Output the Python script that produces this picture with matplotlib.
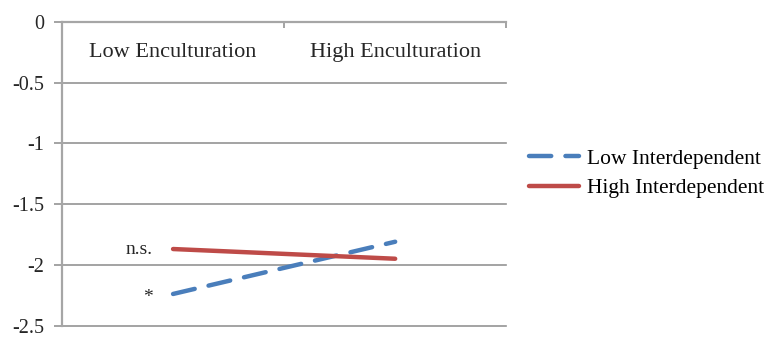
import matplotlib.pyplot as plt

plt.rcParams["font.family"] = ["Liberation Serif", "DejaVu Serif"]

categories = ["Low Enculturation", "High Enculturation"]
low_interdependent = [-2.24, -1.81]
high_interdependent = [-1.87, -1.95]
annotations = ["*", "n.s."]
y_ticks = [0, -0.5, -1, -1.5, -2, -2.5]

BLUE = "#4a7ebb"
RED = "#be4b48"
GRID = "#949494"
TEXT = "#262626"

fig = plt.figure(figsize=(7.8, 3.37), dpi=100)
ax = fig.add_axes([0.0795, 0.034, 0.5695, 0.901])

x = [i + 0.5 for i in range(len(categories))]
ax.set_xlim(0, len(categories))
ax.set_ylim(-2.5, 0)

for yv in y_ticks:
    ax.axhline(yv, color=GRID, lw=1.2, zorder=0, clip_on=False)

ax.plot(x, low_interdependent, color=BLUE, lw=3.2, dashes=(5, 3.2),
        solid_capstyle="round", dash_capstyle="round",
        label="Low Interdependent")
ax.plot(x, high_interdependent, color=RED, lw=3.2,
        solid_capstyle="round", label="High Interdependent")

# significance marks left of the low-enculturation points
ax.text(x[0] - 0.09, low_interdependent[0] - 0.03, annotations[0],
        ha="right", va="center", fontsize=14, color=TEXT)
ax.text(x[0] - 0.09, high_interdependent[0], annotations[1],
        ha="right", va="center", fontsize=14, color=TEXT)

for xi, cat in zip(x, categories):
    ax.text(xi, -0.25, cat, ha="center", va="center", fontsize=16,
            color=TEXT)

ax.set_yticks(y_ticks)
ax.set_yticklabels([f"{v:g}" for v in y_ticks], fontsize=14.5, color=TEXT)
ax.tick_params(axis="y", length=6, width=1.2, color=GRID, pad=7)
ax.set_xticks(range(len(categories) + 1))
ax.xaxis.tick_top()
ax.tick_params(axis="x", direction="in", length=4, width=1.2, color=GRID,
               labeltop=False, labelbottom=False)

for side in ["right", "bottom"]:
    ax.spines[side].set_visible(False)
for side in ["left", "top"]:
    ax.spines[side].set_color("#a6a6a6")
    ax.spines[side].set_linewidth(1.6)

fig.legend(loc="center left", bbox_to_anchor=(0.654, 0.485), frameon=False,
           fontsize=15.5, handlelength=2.3, handletextpad=0.36,
           labelspacing=0.45)

fig.savefig("out.png", dpi=100)
